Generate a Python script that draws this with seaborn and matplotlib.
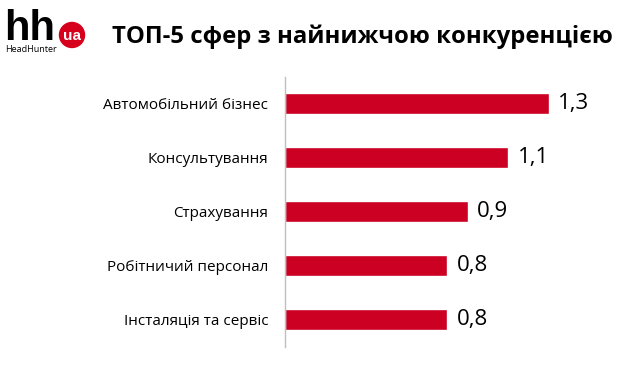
import seaborn as sns
import matplotlib.pyplot as plt
import pandas as pd
from matplotlib.patches import Ellipse

sns.set_theme(style="white")
plt.rcParams["font.family"] = ["Open Sans", "DejaVu Sans"]

categories = [
    "Автомобільний бізнес",
    "Консультування",
    "Страхування",
    "Робітничий персонал",
    "Інсталяція та сервіс",
]
values = [1.3, 1.1, 0.9, 0.8, 0.8]
title = "ТОП-5 сфер з найнижчою конкуренцією"

RED = "#CC0022"
W, H = 630, 369

df = pd.DataFrame({"sphere": categories, "value": values})

fig = plt.figure(figsize=(6.3, 3.69), dpi=100)
ax = fig.add_axes([285.3 / W, 1 - 346.5 / H, (600 - 285.3) / W, (346.5 - 77) / H])

sns.barplot(data=df, x="value", y="sphere", orient="h", color=RED,
            width=0.39, saturation=1, ax=ax)

ax.set_xlim(0, (600 - 285.3) / 202.5)
ax.set_xlabel("")
ax.set_ylabel("")
ax.set_xticks([])
for side in ["top", "right", "bottom"]:
    ax.spines[side].set_visible(False)
ax.spines["left"].set_color("#BFBFBF")
ax.spines["left"].set_linewidth(1)
ax.tick_params(axis="y", length=0, pad=12.2, labelsize=11, labelcolor="black")

# value labels with comma decimal
labels = [f"{v:.1f}".replace(".", ",") for v in values]
ax.bar_label(ax.containers[0], labels=labels, padding=7, fontsize=16, color="black")

# title, sized to span the same width as the original
t = fig.text(112 / W, 1 - 37 / H, title, fontsize=18, fontweight="bold",
             va="center", ha="left", color="black")
fig.canvas.draw()
tw = t.get_window_extent().width
t.set_fontsize(18 * 501 / tw)

# logo
fig.text(4 / W, 1 - 40 / H, "hh", fontsize=30, fontweight="bold",
         va="baseline", ha="left", color="black", family=["Liberation Sans"])
fig.patches.append(Ellipse((72 / W, 1 - 35 / H), 25 / W, 25 / H,
                           transform=fig.transFigure, color="#D6001C"))
fig.text(72 / W, 1 - 36 / H, "ua", fontsize=11, fontweight="bold",
         va="center", ha="center", color="white", family=["Liberation Sans"])
fig.text(5 / W, 1 - 50 / H, "HeadHunter", fontsize=6.5,
         va="center", ha="left", color="black")

fig.savefig("out.png", dpi=100)
